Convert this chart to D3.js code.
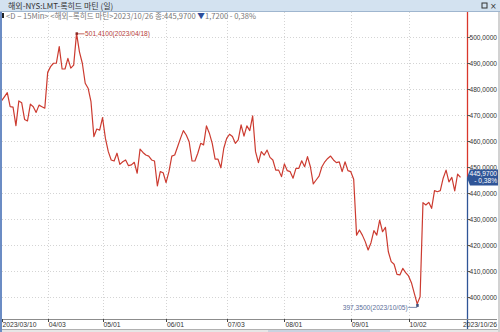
<!DOCTYPE html>
<html>
<head>
<meta charset="utf-8">
<script src="https://cdn.jsdelivr.net/npm/d3@7"></script>
<style>
  html, body { margin: 0; padding: 0; background: #fff; overflow: hidden; }
  svg { display: block; }
</style>
</head>
<body>
<div id="vis"></div>
<script>
// daily closes, 2023/03/10 .. 2023/10/26
const prices = [
  475.4, 477.0, 478.6, 473.2, 473.0, 465.9, 475.4, 474.7, 468.3, 467.7,
  474.2, 473.2, 471.0, 473.8, 473.2, 472.6, 486.4, 488.6, 489.9, 489.9,
  496.3, 487.7, 487.7, 491.8, 488.0, 489.2, 501.41, 494.3, 489.9, 482.2,
  480.3, 475.1, 461.7, 464.6, 464.2, 469.0, 461.0, 455.9, 452.7, 452.3,
  455.3, 451.0, 452.0, 452.7, 450.5, 450.8, 451.8, 447.6, 456.9, 455.6,
  454.6, 454.2, 452.7, 452.3, 442.7, 448.2, 447.8, 444.0, 448.2, 454.2,
  454.6, 457.8, 461.0, 464.0, 462.3, 459.7, 452.3, 452.3, 455.3, 459.1,
  458.5, 465.8, 463.0, 459.1, 453.0, 453.0, 449.7, 457.2, 461.0, 462.6,
  461.7, 459.1, 460.4, 466.2, 461.9, 465.8, 464.0, 469.7, 455.9, 451.7,
  455.9, 454.6, 456.5, 453.7, 452.7, 448.8, 448.8, 446.3, 451.2, 448.6,
  448.2, 445.7, 449.5, 449.5, 452.4, 450.1, 454.0, 450.1, 443.5, 445.0,
  446.5, 450.1, 452.0, 453.3, 454.2, 452.7, 451.7, 452.0, 448.2, 452.0,
  448.6, 448.2, 445.3, 423.8, 425.8, 423.8, 421.3, 418.1, 420.9, 425.5,
  423.8, 429.6, 425.1, 426.8, 417.4, 413.6, 412.6, 408.7, 408.5, 411.0,
  409.4, 408.1, 405.5, 401.4, 397.35, 400.1, 436.3, 435.4, 436.4, 434.1,
  440.9, 440.5, 440.9, 445.7, 448.8, 444.3, 446.0, 440.8, 447.3, 445.97
];

const xTickIndex = [0, 16, 35, 57, 78, 98, 121, 141];
const xTickLabels = ["2023/03/10", "04/03", "05/01", "06/01", "07/03", "08/01", "09/01", "10/02"];
const lastDate = "2023/10/26";
const yTicks = [400, 410, 420, 430, 440, 450, 460, 470, 480, 490, 500];

const titleText = "해외-NYS:LMT-록히드 마틴 (일)";
const infoText = "<D − 15Min> <해외−록히드 마틴>2023/10/26 종:445,9700 ";
const changeText = "1,7200 - 0,38%";
const lastPct = "- 0,38%";
const maxLabelDate = "2023/04/18";
const minLabelDate = "2023/10/05";

function fmt(v) {
  return v.toFixed(4).replace(".", ",");
}

function createVis() {
  const width = 500;
  const height = 332;
  const plotRight = 467;
  const plotTop = 12;
  const axisY = 319;
  const numFont = '"Liberation Sans", Arial, sans-serif';
  const krFont = '"Noto Sans CJK KR", sans-serif';

  const x = d3.scaleLinear().domain([0, prices.length - 1]).range([1.5, 460.5]);
  const y = d3.scaleLinear().domain([400, 500]).range([297, 37]);

  const svg = d3.select("#vis")
    .append("svg")
    .attr("width", width)
    .attr("height", height)
    .attr("viewBox", [0, 0, width, height]);

  svg.append("rect").attr("width", width).attr("height", height).attr("fill", "#fff");

  // grid
  svg.append("g")
    .selectAll("line")
    .data(yTicks)
    .join("line")
    .attr("x1", 2).attr("x2", plotRight)
    .attr("y1", d => Math.round(y(d)) + 0.5).attr("y2", d => Math.round(y(d)) + 0.5)
    .attr("stroke", "#d4d4d4")
    .attr("stroke-dasharray", "1,2");

  svg.append("g")
    .selectAll("line")
    .data(xTickIndex.slice(1))
    .join("line")
    .attr("x1", d => Math.round(x(d)) + 0.5).attr("x2", d => Math.round(x(d)) + 0.5)
    .attr("y1", plotTop).attr("y2", axisY)
    .attr("stroke", "#d4d4d4")
    .attr("stroke-dasharray", "1,2");

  // price line
  const line = d3.line()
    .x((d, i) => x(i))
    .y(d => y(d));

  svg.append("path")
    .datum(prices)
    .attr("fill", "none")
    .attr("stroke", "#cc3b30")
    .attr("stroke-width", 1.2)
    .attr("stroke-linejoin", "round")
    .attr("d", line);

  // max / min annotations
  const iMax = d3.maxIndex(prices);
  const iMin = d3.minIndex(prices);
  const px = x(iMax), py = y(prices[iMax]);
  svg.append("line")
    .attr("x1", px).attr("x2", px + 8).attr("y1", py + 0.5).attr("y2", py + 0.5)
    .attr("stroke", "#b5403a").attr("stroke-width", 0.8);
  svg.append("rect").attr("x", px - 1).attr("y", py - 1).attr("width", 2.5).attr("height", 2.5).attr("fill", "#8a2a25");
  svg.append("text")
    .attr("x", px + 8.5).attr("y", py + 2.8)
    .attr("font-family", numFont).attr("font-size", 6.6)
    .attr("fill", "#b5403a")
    .text(fmt(prices[iMax]) + "(" + maxLabelDate + ")");

  const mx = x(iMin), my = y(prices[iMin]);
  svg.append("line")
    .attr("x1", mx - 9).attr("x2", mx).attr("y1", my + 3.5).attr("y2", my + 3.5)
    .attr("stroke", "#5b6f99").attr("stroke-width", 0.8);
  svg.append("rect").attr("x", mx - 1).attr("y", my).attr("width", 2.5).attr("height", 3).attr("fill", "#3d4f7a");
  svg.append("text")
    .attr("x", mx - 9.5).attr("y", my + 6)
    .attr("text-anchor", "end")
    .attr("font-family", numFont).attr("font-size", 6.6)
    .attr("fill", "#5b6f99")
    .text(fmt(prices[iMin]) + "(" + minLabelDate + ")");

  // right axis: red above last price, blue below
  const lastY = y(prices[prices.length - 1]);
  svg.append("line")
    .attr("x1", plotRight + 0.5).attr("x2", plotRight + 0.5)
    .attr("y1", plotTop).attr("y2", lastY)
    .attr("stroke", "#d9362b").attr("stroke-width", 1.3);
  svg.append("line")
    .attr("x1", plotRight + 0.5).attr("x2", plotRight + 0.5)
    .attr("y1", lastY).attr("y2", height)
    .attr("stroke", "#2f5597").attr("stroke-width", 1.3);

  const yAxis = svg.append("g");
  yAxis.selectAll("line")
    .data(yTicks)
    .join("line")
    .attr("x1", plotRight).attr("x2", plotRight + 3)
    .attr("y1", d => Math.round(y(d)) + 0.5).attr("y2", d => Math.round(y(d)) + 0.5)
    .attr("stroke", "#555");
  yAxis.selectAll("text")
    .data(yTicks)
    .join("text")
    .attr("x", 469.5).attr("y", d => y(d) + 2.5)
    .attr("font-family", numFont).attr("font-size", 6.6)
    .attr("fill", "#333")
    .text(d => fmt(d));

  // last price box
  const box = svg.append("g");
  box.append("path")
    .attr("d", `M${plotRight},${lastY} L${plotRight + 3},${lastY - 8} L498,${lastY - 8} L498,${lastY + 8} L${plotRight + 3},${lastY + 8} Z`)
    .attr("fill", "#2f5597");
  box.append("text")
    .attr("x", 497).attr("y", lastY - 1.5)
    .attr("text-anchor", "end")
    .attr("font-family", numFont).attr("font-size", 6.6)
    .attr("fill", "#fff")
    .text(fmt(prices[prices.length - 1]));
  box.append("text")
    .attr("x", 497).attr("y", lastY + 6)
    .attr("text-anchor", "end")
    .attr("font-family", numFont).attr("font-size", 6.6)
    .attr("fill", "#fff")
    .text(lastPct);

  // bottom axis
  svg.append("line")
    .attr("x1", 0).attr("x2", 497).attr("y1", axisY + 0.5).attr("y2", axisY + 0.5)
    .attr("stroke", "#8c8c8c");
  svg.append("g")
    .selectAll("line")
    .data(xTickIndex)
    .join("line")
    .attr("x1", d => Math.round(x(d)) + 0.5).attr("x2", d => Math.round(x(d)) + 0.5)
    .attr("y1", axisY).attr("y2", axisY + 3)
    .attr("stroke", "#444");
  svg.append("g")
    .selectAll("text")
    .data(xTickIndex)
    .join("text")
    .attr("x", d => Math.max(2, x(d) + 1)).attr("y", 327)
    .attr("font-family", numFont).attr("font-size", 6.8)
    .attr("fill", "#333")
    .text((d, i) => xTickLabels[i]);
  svg.append("text")
    .attr("x", 497).attr("y", 327)
    .attr("text-anchor", "end")
    .attr("font-family", numFont).attr("font-size", 6.8)
    .attr("fill", "#333")
    .text(lastDate);

  svg.append("line")
    .attr("x1", 0).attr("x2", width).attr("y1", 329.5).attr("y2", 329.5)
    .attr("stroke", "#b0b0b0");
  svg.append("rect").attr("x", 0).attr("y", 330).attr("width", width).attr("height", 2).attr("fill", "#e6e6e6");
  svg.append("rect").attr("x", 268).attr("y", 330).attr("width", 122).attr("height", 2).attr("fill", "#c9d3e0");

  // frame edges
  svg.append("rect").attr("x", 0).attr("y", plotTop).attr("width", 2).attr("height", height - plotTop).attr("fill", "#6b8cc4");
  svg.append("rect").attr("x", 498).attr("y", plotTop).attr("width", 2).attr("height", height - plotTop).attr("fill", "#d2d2d2");

  // title bar
  svg.append("rect").attr("x", 0).attr("y", 0).attr("width", width).attr("height", 11).attr("fill", "#d3e2f0");
  svg.append("line").attr("x1", 0).attr("x2", width).attr("y1", 11.5).attr("y2", 11.5).attr("stroke", "#9fb6cf");
  svg.append("text")
    .attr("x", 8).attr("y", 8.5)
    .attr("font-family", krFont).attr("font-size", 8)
    .attr("fill", "#333")
    .text(titleText);
  svg.append("rect").attr("x", 482).attr("y", 3).attr("width", 5).attr("height", 5)
    .attr("fill", "none").attr("stroke", "#333").attr("stroke-width", 1);
  svg.append("text")
    .attr("x", 490).attr("y", 8.5)
    .attr("font-family", "DejaVu Sans, sans-serif").attr("font-size", 8)
    .attr("fill", "#333")
    .text("×");

  // info row
  svg.append("rect").attr("x", 2).attr("y", 13).attr("width", 2).attr("height", 5).attr("fill", "#222");
  const info = svg.append("text")
    .attr("x", 6).attr("y", 18.5)
    .attr("font-family", krFont).attr("font-size", 7.6)
    .attr("fill", "#777");
  info.append("tspan").text(infoText);
  info.append("tspan").attr("fill", "#2f4f9a").text("▼");
  info.append("tspan").text(changeText);
}

window.addEventListener("load", createVis);
</script>
</body>
</html>
